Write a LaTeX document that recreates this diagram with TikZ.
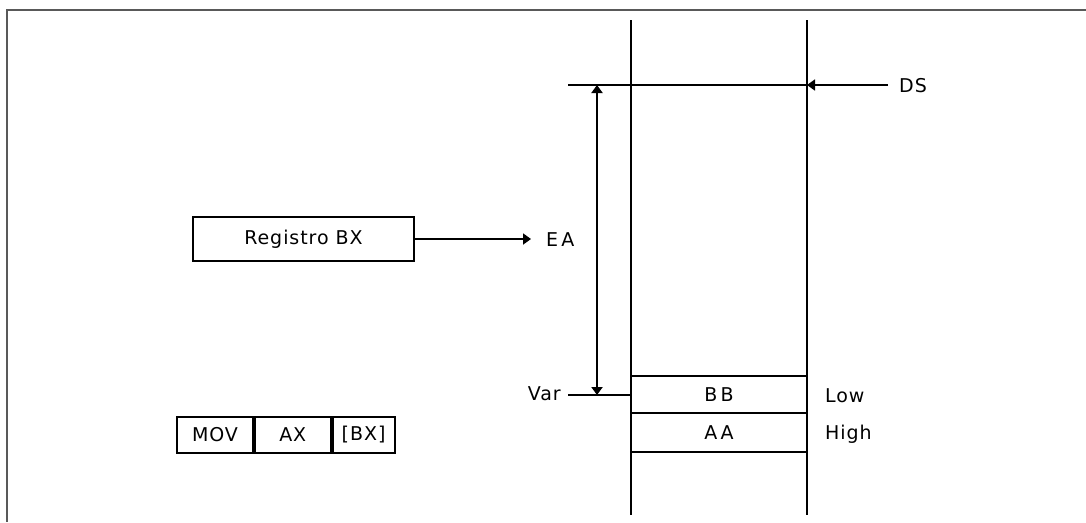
\documentclass[tikz,border=0pt]{standalone}
\usepackage{fontspec}
\setmainfont{DejaVu Sans}[LetterSpace=5]
\usetikzlibrary{arrows.meta}
\begin{document}
\begin{tikzpicture}[x=1pt,y=-1pt,
  lbl/.style={inner sep=0pt,font=\fontsize{19}{22}\selectfont},
  thick line/.style={line width=2.6pt,black},
  thin line/.style={line width=1.8pt,black},
  tip/.style={-{Triangle[length=8pt,width=11pt]}}]
\useasboundingbox (0,0) rectangle (1086,522);
% frame
\draw[line width=2.2pt,black!65] (1086,10) -- (7,10) -- (7,522);
% memory columns
\coordinate (cLt) at (631,20); \coordinate (cLb) at (631,515);
\coordinate (cRt) at (807,20); \coordinate (cRb) at (807,515);
\draw[thick line] (cLt) -- (cLb);
\draw[thick line] (cRt) -- (cRb);
% rows
\coordinate (r1l) at (631,376); \coordinate (r1r) at (807,376);
\coordinate (r2l) at (631,413); \coordinate (r2r) at (807,413);
\coordinate (r3l) at (631,452); \coordinate (r3r) at (807,452);
\draw[thin line] (r1l) -- (r1r);
\draw[thin line] (r2l) -- (r2r);
\draw[thin line] (r3l) -- (r3r);
\node[lbl] (bb) at (719,395) {B\,B};
\node[lbl] (aa) at (719,433) {A\,A};
\node[lbl,anchor=west] (low) at (825,396) {Low};
\node[lbl,anchor=west] (high) at (825,434) {High};
% DS
\coordinate (dsl) at (568,85); \coordinate (dsr) at (807,85);
\draw[thick line] (dsl) -- (dsr);
\node[lbl,anchor=west] (ds) at (899,86) {DS};
\coordinate (dsa) at (888,85);
\draw[thin line,tip] (dsa) -- (dsr);
% Var
\coordinate (varl) at (568,395); \coordinate (varr) at (631,395);
\draw[thin line] (varl) -- (varr);
\node[lbl,anchor=east] (var) at (561,394) {Var};
% double arrow
\coordinate (dat) at (597,85); \coordinate (dab) at (597,395);
\draw[thick line,{Triangle[length=8pt,width=11pt]}-{Triangle[length=8pt,width=11pt]}] (dat) -- (dab);
% Registro BX
\node[draw,thin line,minimum width=221pt,minimum height=44pt,inner sep=0pt,font=\fontsize{19}{22}\selectfont] (reg) at (303.5,239) {Registro BX};
\node[lbl,anchor=west] (ea) at (546,240) {E\,A};
\draw[thin line,tip] (reg.east) -- (531,239) coordinate (eatip);
% instruction
\node[draw,thin line,minimum width=76pt,minimum height=36pt,inner sep=0pt,lbl] (mov) at (215,435) {MOV};
\node[draw,thin line,minimum width=76pt,minimum height=36pt,inner sep=0pt,lbl,anchor=west] (ax) at (mov.east) {AX};
\node[draw,thin line,minimum width=62pt,minimum height=36pt,inner sep=0pt,lbl,anchor=west] (bx) at (ax.east) {[BX]};
\end{tikzpicture}
\end{document}
